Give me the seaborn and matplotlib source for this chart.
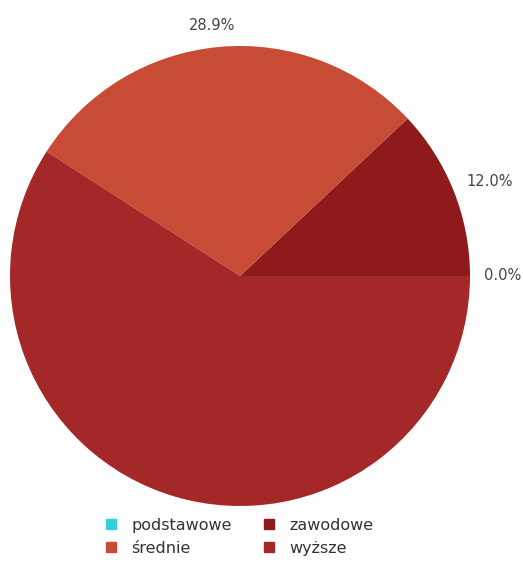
import matplotlib
matplotlib.use("Agg")
import matplotlib.pyplot as plt
import seaborn as sns
from matplotlib.lines import Line2D

# --- Data ---
categories = ["podstawowe", "zawodowe", "średnie", "wyższe"]
shares = [0.0, 12.0, 28.9, 59.1]
shown_labels = ["0.0%", "12.0%", "28.9%", ""]
colors = ["#30d0dc", "#8e1a1c", "#c84b35", "#a52828"]

sns.set_theme(style="white")
plt.rcParams['font.family'] = ['DejaVu Sans']

fig = plt.figure(figsize=(5.23, 5.63), dpi=100)
ax = fig.add_axes([10 / 523, 57 / 563, 460 / 523, 460 / 563])

wedges, texts = ax.pie(shares, labels=shown_labels, colors=colors,
                       startangle=0, counterclock=True, radius=1,
                       labeldistance=1.06,
                       wedgeprops=dict(linewidth=0),
                       textprops=dict(fontsize=10.5, color="#444444"))
# labels near the top are centred over their slice
for t in texts:
    x, y = t.get_position()
    if abs(x) < 0.3 and y > 0:
        t.set_ha("center")
        t.set_position((x * 1.25, y * 1.03))
    elif y > 0:
        t.set_position((x, y * 1.05))
ax.set_xlim(-1, 1)
ax.set_ylim(-1, 1)
ax.set_aspect("equal")
ax.axis("off")

# --- Legend (row-wise order) ---
order = [0, 2, 1, 3]
handles = [Line2D([0], [0], marker="s", linestyle="", markersize=7.5,
                  markerfacecolor=colors[i], markeredgecolor=colors[i]) for i in order]
fig.legend(handles, [categories[i] for i in order], ncol=2, loc="lower center",
           bbox_to_anchor=(0.455, -0.013), frameon=False, fontsize=11.5,
           labelcolor="#333333", columnspacing=1.8, handletextpad=0.8,
           handlelength=1.0, labelspacing=0.5)

fig.savefig("out.png", dpi=100)
